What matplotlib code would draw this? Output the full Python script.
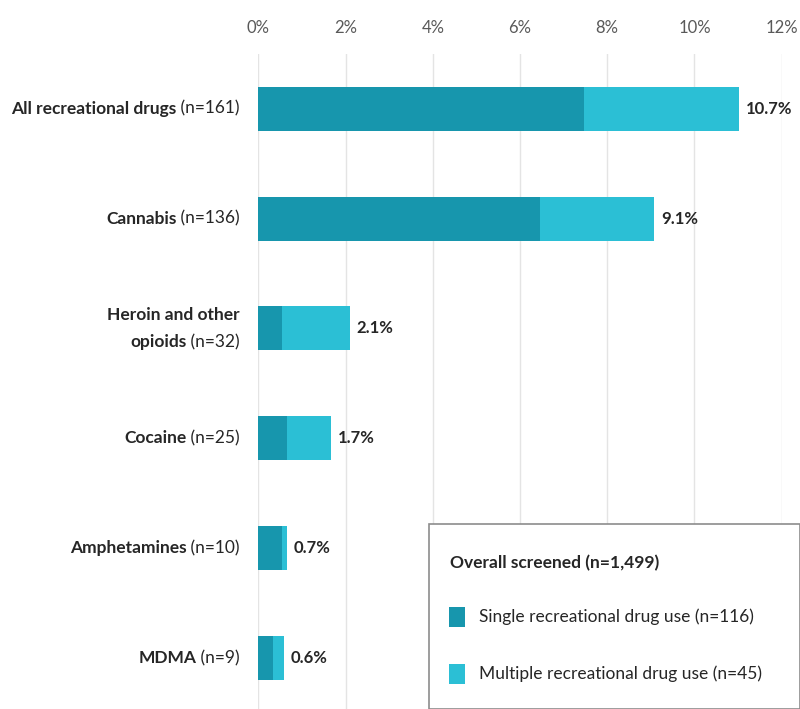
import matplotlib
matplotlib.use("Agg")
import matplotlib.pyplot as plt
from matplotlib.patches import Rectangle
import matplotlib.transforms as mtransforms

plt.rcParams['font.family'] = ['Lato', 'DejaVu Sans']

# Data
bold_names = ["All recreational drugs", "Cannabis", "Heroin and other\nopioids", "Cocaine", "Amphetamines", "MDMA"]
n_labels = ["(n=161)", "(n=136)", "(n=32)", "(n=25)", "(n=10)", "(n=9)"]
single = [7.47, 6.47, 0.55, 0.65, 0.54, 0.34]
multiple = [3.56, 2.61, 1.55, 1.02, 0.11, 0.25]
value_labels = ["10.7%", "9.1%", "2.1%", "1.7%", "0.7%", "0.6%"]
xticks = [0, 2, 4, 6, 8, 10, 12]
legend_title = "Overall screened (n=1,499)"
legend_labels = ["Single recreational drug use (n=116)", "Multiple recreational drug use (n=45)"]

dark = "#1796ad"
light = "#2bbfd5"

W, H = 800, 709
fig = plt.figure(figsize=(W / 100, H / 100), dpi=100)
ax_left, ax_right = 258.3 / W, 781.7 / W
ax_top_px, ax_bot_px = 53.7, 709
ax = fig.add_axes([ax_left, 1 - ax_bot_px / H, ax_right - ax_left, (ax_bot_px - ax_top_px) / H])

pos = list(range(len(bold_names)))
ax.barh(pos, single, height=0.4, color=dark, zorder=2)
ax.barh(pos, multiple, left=single, height=0.4, color=light, zorder=2)

ax.set_xlim(0, 12)
ax.set_ylim(5 + (709 - 658) / 110, -0.5)
ax.set_xticks(xticks)
ax.set_xticklabels([f"{t}%" for t in xticks])
ax.xaxis.tick_top()
ax.tick_params(axis='x', length=0, pad=13, labelsize=12, labelcolor="#595959")
ax.set_yticks([])
for s in ax.spines.values():
    s.set_visible(False)
ax.grid(axis='x', color="#e4e4e4", linewidth=1, zorder=0)

# value labels
for i, (s, m, lab) in enumerate(zip(single, multiple, value_labels)):
    ax.annotate(lab, xy=(s + m, i), xytext=(5, 0), textcoords="offset points",
                ha="left", va="center", fontsize=12, fontweight="bold", color="#262626")

# category labels with mixed weight
fig.canvas.draw()
renderer = fig.canvas.get_renderer()
label_right_px = 240
fs = 12.5
for i, (bname, nl) in enumerate(zip(bold_names, n_labels)):
    lines = bname.split("\n")
    nlines = len(lines)
    for j, line in enumerate(lines):
        dy = (j - (nlines - 1) / 2) * 27  # px
        ytrans = mtransforms.blended_transform_factory(fig.transFigure, ax.transData)
        off = mtransforms.ScaledTranslation(0, -dy / 100, fig.dpi_scale_trans)
        x_fig = label_right_px / W
        if j == nlines - 1:
            t = fig.text(x_fig, i, " " + nl, transform=ytrans + off, ha="right", va="center",
                         fontsize=fs, color="#262626")
            bb = t.get_window_extent(renderer)
            fig.text(x_fig - bb.width / W, i, line, transform=ytrans + off, ha="right", va="center",
                     fontsize=fs, fontweight="bold", color="#262626")
        else:
            fig.text(x_fig, i, line, transform=ytrans + off, ha="right", va="center",
                     fontsize=fs, fontweight="bold", color="#262626")

# legend box (manual)
box = Rectangle((429 / W, 0), 1 - 429 / W, 1 - 524 / H, transform=fig.transFigure,
                facecolor="white", edgecolor="#8c8c8c", linewidth=1.2, zorder=5)
fig.patches.append(box)
fig.text(450 / W, 1 - 563 / H, legend_title, ha="left", va="center", fontsize=12.5,
         fontweight="bold", color="#262626", zorder=6)
for k, (lab, col) in enumerate(zip(legend_labels, [dark, light])):
    yc = [617, 674][k]
    sq = Rectangle((449 / W, 1 - (yc + 10) / H), 16 / W, 20 / H, transform=fig.transFigure,
                   facecolor=col, edgecolor="none", zorder=6)
    fig.patches.append(sq)
    fig.text(479 / W, 1 - yc / H, lab, ha="left", va="center", fontsize=12.5, color="#262626", zorder=6)

fig.savefig("out.png", dpi=100)
